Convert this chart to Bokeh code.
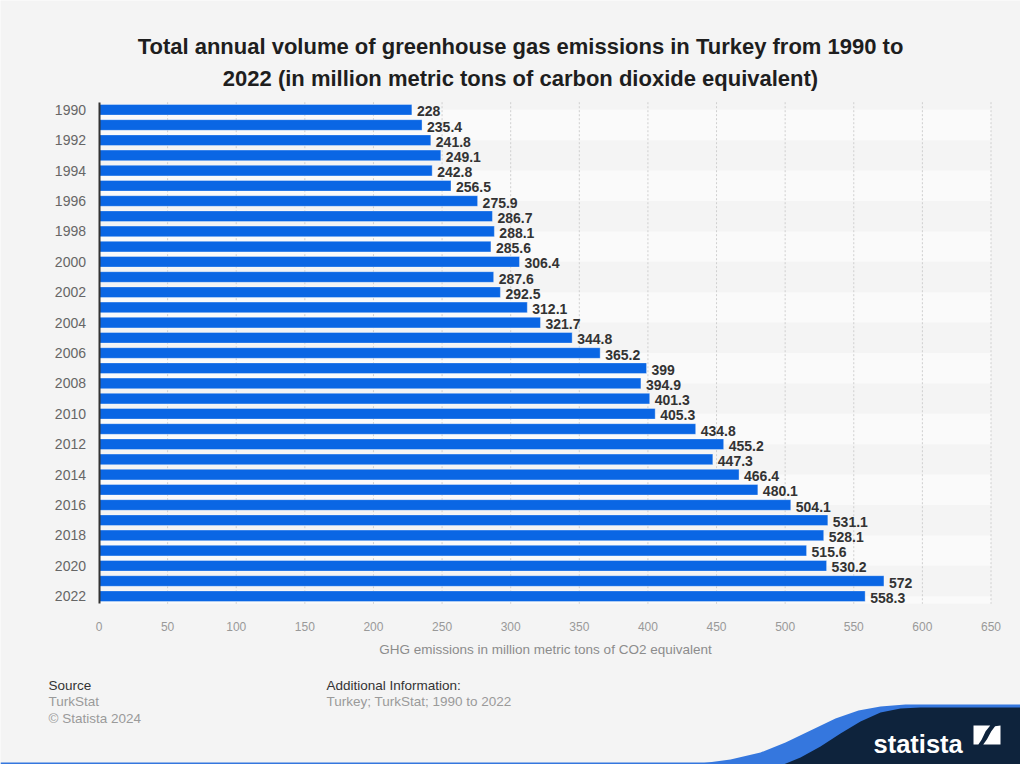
from bokeh.plotting import figure
from bokeh.models import Range1d, FixedTicker, ColumnDataSource
from bokeh.core.properties import value
from bokeh.embed import file_html
from bokeh.resources import INLINE

# ---------------- data ----------------
years = list(range(1990, 2023))
emissions = [228, 235.4, 241.8, 249.1, 242.8, 256.5, 275.9, 286.7, 288.1, 285.6,
             306.4, 287.6, 292.5, 312.1, 321.7, 344.8, 365.2, 399, 394.9, 401.3,
             405.3, 434.8, 455.2, 447.3, 466.4, 480.1, 504.1, 531.1, 528.1, 515.6,
             530.2, 572, 558.3]
year_ticks = list(range(1990, 2023, 2))
value_ticks = list(range(0, 651, 50))

title_lines = ["Total annual volume of greenhouse gas emissions in Turkey from 1990 to",
               "2022 (in million metric tons of carbon dioxide equivalent)"]
x_label = "GHG emissions in million metric tons of CO2 equivalent"
source_head = "Source"
source_lines = ["TurkStat", "\u00a9 Statista 2024"]
info_head = "Additional Information:"
info_lines = ["Turkey; TurkStat; 1990 to 2022"]

BG = "#f4f4f4"
BAND = "#fafafa"
BLUE = "#0a66e4"
FONT = value("Liberation Sans")

# ---------------- geometry (page pixels) ----------------
W, H = 1020, 764
PL, PR, PT, PB = 98.5, 990.5, 101.7, 603.3     # plot-area box on the page
X0, X1 = 0, 650
Y0, Y1 = 1989.5, 2022.5
SX = (PR - PL) / (X1 - X0)
SY = (PB - PT) / (Y1 - Y0)

p = figure(width=W, height=H,
           x_range=Range1d(X0 - PL / SX, X1 + (W - PR) / SX),
           y_range=Range1d(Y1 + (H - PB) / SY, Y0 - PT / SY),
           toolbar_location=None, output_backend="svg",
           min_border_left=0, min_border_right=0, min_border_top=0, min_border_bottom=0,
           background_fill_color=BG, border_fill_color=BG, outline_line_color=None)
p.extra_x_ranges = {"px": Range1d(0, W)}
p.extra_y_ranges = {"px": Range1d(H, 0)}

# ---------------- chart ----------------
band_start = years[::4]
p.quad(left=X0, right=X1, top=band_start, bottom=[min(y + 2, Y1) for y in band_start],
       fill_color=BAND, line_color=None)
p.segment(x0=value_ticks[1:], x1=value_ticks[1:], y0=Y0, y1=Y1,
          line_color="#cfcfcf", line_dash="2 2", line_width=1)

src = ColumnDataSource(dict(year=years, val=emissions,
                            lab=[f"{v:g}" for v in emissions]))
p.hbar(y="year", right="val", left=0, height=0.7, source=src, fill_color=BLUE,
       line_color="#ffffff", line_alpha=0.35, line_width=1)
p.text(x="val", y="year", text="lab", source=src, x_offset=5, y_offset=1.5,
       text_font=FONT, text_font_style="bold", text_font_size="14px", text_color="#333333",
       text_baseline="middle", text_align="left")

p.xgrid.visible = False
p.ygrid.visible = False

p.xaxis.fixed_location = Y1
p.xaxis.bounds = (X0, X1)
p.xaxis.ticker = FixedTicker(ticks=value_ticks)
p.xaxis.axis_line_color = None
p.xaxis.major_tick_line_color = None
p.xaxis.minor_tick_line_color = None
p.xaxis.major_label_standoff = 12
p.xaxis.major_label_text_font = "Liberation Sans"
p.xaxis.major_label_text_font_size = "12px"
p.xaxis.major_label_text_color = "#999999"
p.xaxis.axis_label = x_label
p.xaxis.axis_label_standoff = 8
p.xaxis.axis_label_text_font = "Liberation Sans"
p.xaxis.axis_label_text_font_style = "normal"
p.xaxis.axis_label_text_font_size = "13.5px"
p.xaxis.axis_label_text_color = "#8c8c8c"

p.yaxis.fixed_location = X0
p.yaxis.bounds = (Y0, Y1)
p.yaxis.ticker = FixedTicker(ticks=year_ticks)
p.yaxis.axis_line_color = "#333333"
p.yaxis.axis_line_width = 2
p.yaxis.major_tick_line_color = None
p.yaxis.minor_tick_line_color = None
p.yaxis.major_label_standoff = 7
p.yaxis.major_label_text_font = "Liberation Sans"
p.yaxis.major_label_text_font_size = "14px"
p.yaxis.major_label_text_color = "#666666"

PX = dict(x_range_name="px", y_range_name="px")

# ---------------- title ----------------
p.text(x=[520, 520], y=[45.7, 78.3], text=title_lines, text_font=FONT, text_font_style="bold",
       text_font_size="22px", text_color="#1e1e1e", text_align="center",
       text_baseline="alphabetic", **PX)

# ---------------- footer ----------------
p.text(x=[48, 326], y=[684.7, 684.7], text=[source_head, info_head], text_font=FONT,
       text_font_size="13.5px", text_color="#333333", text_baseline="middle", **PX)
p.text(x=[48, 48, 326], y=[701.3, 718, 701.3], text=source_lines + info_lines, text_font=FONT,
       text_font_size="13.5px", text_color="#9a9a9a", text_baseline="middle", **PX)

# ---------------- statista logo (decoration) ----------------
p.quad(left=0, right=W, top=762, bottom=H, fill_color="#3577de", line_color=None, **PX)
blue_pts = [(700, 763), (730, 759), (760, 752), (785, 742), (810, 730), (835, 718),
            (858, 710), (880, 706), (905, 704), (1020, 704), (1020, 764), (700, 764)]
navy_pts = [(783, 764), (800, 757), (820, 746), (840, 733), (860, 721), (880, 712),
            (900, 708), (920, 707), (1020, 707), (1020, 764)]
p.patch([a for a, b in blue_pts], [b for a, b in blue_pts], fill_color="#3577de",
        line_color=None, **PX)
p.patch([a for a, b in navy_pts], [b for a, b in navy_pts], fill_color="#0e233c",
        line_color=None, **PX)
p.text(x=[873], y=[743.3], text=["statista"], text_font=FONT, text_font_style="bold",
       text_font_size="25.5px", text_color="#ffffff", text_baseline="alphabetic", **PX)
ix0, iy0, iw, ih = 973, 725, 27, 19
pa = [(0, 0), (0.62, 0), (0.45, 0.3), (0.3, 0.75), (0.18, 1), (0, 1)]
pb = [(1, 0), (1, 1), (0.36, 1), (0.5, 0.72), (0.66, 0.3), (0.8, 0.04)]
p.patches([[ix0 + u * iw for u, v in poly] for poly in (pa, pb)],
          [[iy0 + v * ih for u, v in poly] for poly in (pa, pb)],
          fill_color="#ffffff", line_color=None, **PX)

open("out.html", "w").write(file_html(p, INLINE))
